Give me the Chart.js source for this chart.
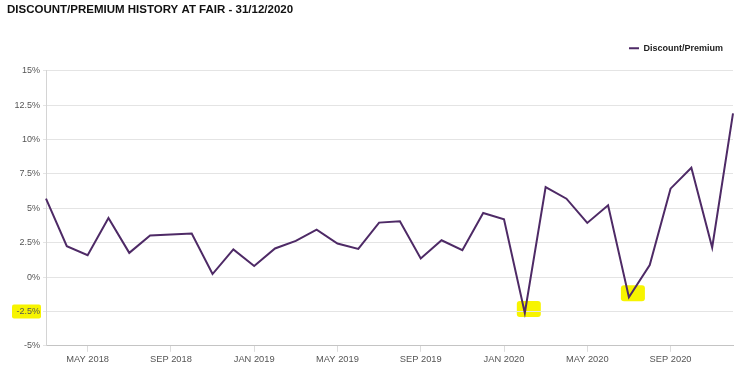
<!DOCTYPE html>
<html>
<head>
<meta charset="utf-8">
<script src="https://cdn.jsdelivr.net/npm/chart.js@4/dist/chart.umd.min.js"></script>
<style>
  body { margin: 0; background: #fff; }
</style>
</head>
<body>
<canvas id="premiumChart" width="750" height="369"></canvas>
<script>
const months = [
    'MAR 2018', 'APR 2018', 'MAY 2018', 'JUN 2018', 'JUL 2018', 'AUG 2018', 'SEP 2018', 'OCT 2018', 'NOV 2018', 'DEC 2018',
    'JAN 2019', 'FEB 2019', 'MAR 2019', 'APR 2019', 'MAY 2019', 'JUN 2019', 'JUL 2019', 'AUG 2019', 'SEP 2019', 'OCT 2019', 'NOV 2019', 'DEC 2019',
    'JAN 2020', 'FEB 2020', 'MAR 2020', 'APR 2020', 'MAY 2020', 'JUN 2020', 'JUL 2020', 'AUG 2020', 'SEP 2020', 'OCT 2020', 'NOV 2020', 'DEC 2020'
];
const discountPremium = [
    5.70, 2.25, 1.59, 4.30, 1.76, 3.02, 3.09, 3.17, 0.22, 2.01,
    0.80, 2.08, 2.63, 3.45, 2.44, 2.05, 3.96, 4.06, 1.35, 2.68, 1.96, 4.66,
    4.20, -2.61, 6.54, 5.70, 3.94, 5.22, -1.47, 0.87, 6.43, 7.95, 2.15, 11.9
];
const xTickLabels = ['MAY 2018', 'SEP 2018', 'JAN 2019', 'MAY 2019', 'SEP 2019', 'JAN 2020', 'MAY 2020', 'SEP 2020'];
const highlightPoints = [23, 28];   // indices marked with highlighter
const highlightTicks = [-2.5];      // y tick labels marked with highlighter

const lineColor = '#4e2a66';
const highlightColor = '#f7f400';

// yellow highlighter marks, drawn before everything else
const highlighterPlugin = {
    id: 'highlighter',
    afterInit(chart) {
        // leave some extra room under the legend
        const legend = chart.legend;
        const origFit = legend.fit;
        legend.fit = function () {
            origFit.call(this);
            this.height += 8;
        };
    },
    beforeDraw(chart) {
        const ctx = chart.ctx;
        const xs = chart.scales.x;
        const ys = chart.scales.y;
        ctx.save();
        ctx.fillStyle = highlightColor;
        highlightPoints.forEach(function (i) {
            const px = xs.getPixelForValue(i);
            const py = ys.getPixelForValue(discountPremium[i]);
            ctx.beginPath();
            ctx.roundRect(px - 8, py - 12, 24, 16, 3);
            ctx.fill();
        });
        highlightTicks.forEach(function (v) {
            const py = ys.getPixelForValue(v);
            ctx.beginPath();
            ctx.roundRect(ys.right - 34, py - 7, 29, 14, 2);
            ctx.fill();
        });
        ctx.restore();
    }
};

const dataToPlot = {
    labels: months,
    datasets: [{
        label: 'Discount/Premium',
        data: discountPremium,
        borderColor: lineColor,
        backgroundColor: lineColor,
        borderWidth: 2,
        pointRadius: 0,
        tension: 0
    }]
};

const options = {
    responsive: false,
    animation: false,
    layout: {
        padding: { left: 7, right: 17, top: 0, bottom: 2 }
    },
    plugins: {
        title: {
            display: true,
            text: 'DISCOUNT/PREMIUM HISTORY AT FAIR - 31/12/2020',
            align: 'start',
            color: '#111',
            font: { family: 'Liberation Sans', size: 11.5, weight: 'bold' },
            padding: { top: 3, bottom: 17 }
        },
        legend: {
            display: true,
            position: 'top',
            align: 'end',
            labels: {
                color: '#222',
                font: { family: 'Liberation Sans', size: 9, weight: 'bold' },
                boxWidth: 10,
                boxHeight: 2,
                generateLabels: function (chart) {
                    const items = Chart.defaults.plugins.legend.labels.generateLabels(chart);
                    items.forEach(function (it) { it.lineWidth = 0; it.fillStyle = lineColor; });
                    return items;
                }
            }
        },
        tooltip: { enabled: false }
    },
    scales: {
        x: {
            offset: false,
            border: { color: '#c4c4c4' },
            grid: {
                drawOnChartArea: false,
                tickLength: 6,
                color: function (c) {
                    return xTickLabels.includes(months[c.index]) ? '#dcdcdc' : 'rgba(0,0,0,0)';
                }
            },
            ticks: {
                autoSkip: false,
                maxRotation: 0,
                padding: 2,
                color: '#555',
                font: { family: 'Liberation Sans', size: 9.3 },
                callback: function (value, index) {
                    return xTickLabels.includes(months[index]) ? months[index] : '';
                }
            }
        },
        y: {
            min: -5,
            max: 15,
            afterFit: function (scale) { scale.width = 39; },
            border: { color: '#d4d4d4' },
            grid: { color: '#e4e4e4', tickLength: 3 },
            ticks: {
                stepSize: 2.5,
                padding: 3,
                color: '#555',
                font: { family: 'Liberation Sans', size: 9 },
                callback: function (value) { return value + '%'; }
            }
        }
    }
};

const ctx = document.getElementById('premiumChart').getContext('2d');
const chart = new Chart(ctx, {
    type: 'line',
    data: dataToPlot,
    options: options,
    plugins: [highlighterPlugin]
});
</script>
</body>
</html>
